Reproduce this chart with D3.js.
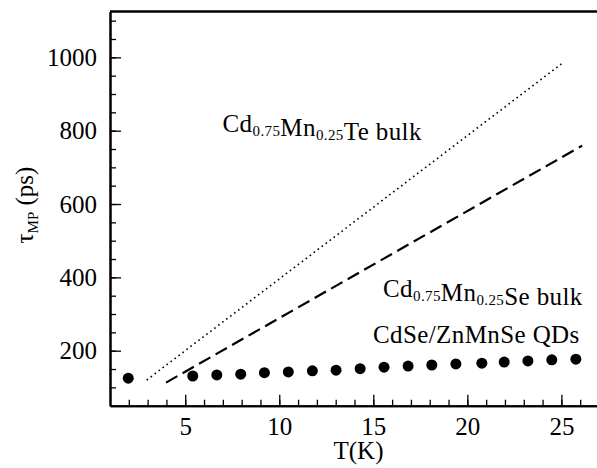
<html>
<head>
  <style>
    body{margin:0;background:#fff}
    .mp text{fill:#000}
    .mp .axis path{stroke:#000;stroke-width:2px}
    .mp .axis line{stroke:#000;stroke-width:1.3px}
  </style>
</head>
<body>
<div id="mp-chart"></div>
<script src="https://d3js.org/d3.v7.min.js"></script>
<script>
(function () {

  var SERIF = 'Liberation Serif';

  // CdSe/ZnMnSe QDs (filled circles)
  var qdT   = [1.97, 5.40, 6.68, 7.95, 9.21, 10.48, 11.76, 13.02, 14.30, 15.57, 16.85, 18.11, 19.39, 20.77, 21.96, 23.22, 24.49, 25.77];
  var qdTau = [125, 131, 134, 136, 140, 142, 145, 147, 151, 155, 158, 161, 164, 166, 169, 172, 175, 177];

  // Cd0.75Mn0.25Te bulk (dotted)
  var teT   = [2.95, 25.0];
  var teTau = [120, 982];

  // Cd0.75Mn0.25Se bulk (dashed)
  var seT   = [3.98, 26.1];
  var seTau = [113, 759];

  var xMajor = [5, 10, 15, 20, 25];
  var xMinor = d3.range(2, 27);
  var yMajor = [200, 400, 600, 800, 1000];
  var yMinor = d3.range(100, 1101, 50);

  var
    width  = 597,
    height = 468,
    xScale = d3.scaleLinear().domain([1, 27]).range([110, 599]),
    yScale = d3.scaleLinear().domain([50, 1125]).range([405.7, 11.5]),
    vis    = d3.select('#mp-chart').append('svg')
               .attr('class', 'mp')
               .attr('width', width)
               .attr('height', height)
               .attr('font-family', SERIF)
               .attr('font-size', 25),
    line   = d3.line()
               .x(function (d) { return xScale(d[0]); })
               .y(function (d) { return yScale(d[1]); });

  vis.append('rect')
    .attr('width', width)
    .attr('height', height)
    .attr('fill', '#fff');

  // minor ticks first, major axes on top
  vis.append('g')
    .attr('class', 'axis')
    .attr('transform', 'translate(0,' + yScale(50) + ')')
    .call(d3.axisBottom(xScale).tickValues(xMinor).tickSize(-6).tickSizeOuter(0).tickFormat(''));

  vis.append('g')
    .attr('class', 'axis')
    .attr('transform', 'translate(' + xScale(1) + ',0)')
    .call(d3.axisLeft(yScale).tickValues(yMinor).tickSize(-6).tickSizeOuter(0).tickFormat(''));

  var gx = vis.append('g')
    .attr('class', 'axis')
    .attr('transform', 'translate(0,' + yScale(50) + ')')
    .call(d3.axisBottom(xScale).tickValues(xMajor).tickSize(-11).tickSizeOuter(0)
          .tickPadding(12).tickFormat(d3.format('d')));

  var gy = vis.append('g')
    .attr('class', 'axis')
    .attr('transform', 'translate(' + xScale(1) + ',0)')
    .call(d3.axisLeft(yScale).tickValues(yMajor).tickSize(-11).tickSizeOuter(0)
          .tickPadding(13).tickFormat(d3.format('d')));

  [gx, gy].forEach(function (g) {
    g.attr('font-family', SERIF).attr('font-size', 25);
  });

  // top frame line (no right frame)
  vis.append('line')
    .attr('x1', xScale(1)).attr('x2', xScale(27))
    .attr('y1', yScale(1125)).attr('y2', yScale(1125))
    .style('stroke', '#000')
    .style('stroke-width', '2.4px');

  // bulk lines
  vis.append('path')
    .attr('d', line(d3.zip(teT, teTau)))
    .style('fill', 'none')
    .style('stroke', '#000')
    .style('stroke-width', '1.6px')
    .style('stroke-dasharray', '1.6,3.4');

  vis.append('path')
    .attr('d', line(d3.zip(seT, seTau)))
    .style('fill', 'none')
    .style('stroke', '#000')
    .style('stroke-width', '2.2px')
    .style('stroke-dasharray', '13,6');

  // QD points
  vis.append('g')
    .selectAll('circle')
    .data(d3.zip(qdT, qdTau))
    .enter().append('circle')
    .attr('cx', function (d) { return xScale(d[0]); })
    .attr('cy', function (d) { return yScale(d[1]); })
    .attr('r', 5.5)
    .style('fill', '#000');

  // annotations with subscripts
  function formula(x, y, parts) {
    var t = vis.append('text').attr('x', x).attr('y', y)
      .attr('letter-spacing', 0.4);
    parts.forEach(function (p) {
      if (p.sub) {
        t.append('tspan').attr('font-size', 15).attr('dy', 4).text(p.s);
        t.append('tspan').attr('dy', -4).text('');
      } else {
        t.append('tspan').text(p.s);
      }
    });
    return t;
  }

  formula(222.5, 132, [{s: 'Cd'}, {s: '0.75', sub: 1}, {s: 'Mn'}, {s: '0.25', sub: 1}, {s: 'Te bulk'}]);
  formula(383, 297, [{s: 'Cd'}, {s: '0.75', sub: 1}, {s: 'Mn'}, {s: '0.25', sub: 1}, {s: 'Se bulk'}]);
  formula(373, 343, [{s: 'CdSe/ZnMnSe QDs'}]);

  // axis titles
  vis.append('text')
    .attr('x', 358.5)
    .attr('y', 459)
    .attr('text-anchor', 'middle')
    .text('T(K)');

  var yt = vis.append('text')
    .attr('text-anchor', 'middle')
    .attr('transform', 'translate(33,205) rotate(-90)');
  yt.append('tspan').text('\u03c4');
  yt.append('tspan').attr('font-size', 15).attr('dy', 5).text('MP');
  yt.append('tspan').attr('dy', -5).text(' (ps)');

})();
</script>
</body>
</html>
